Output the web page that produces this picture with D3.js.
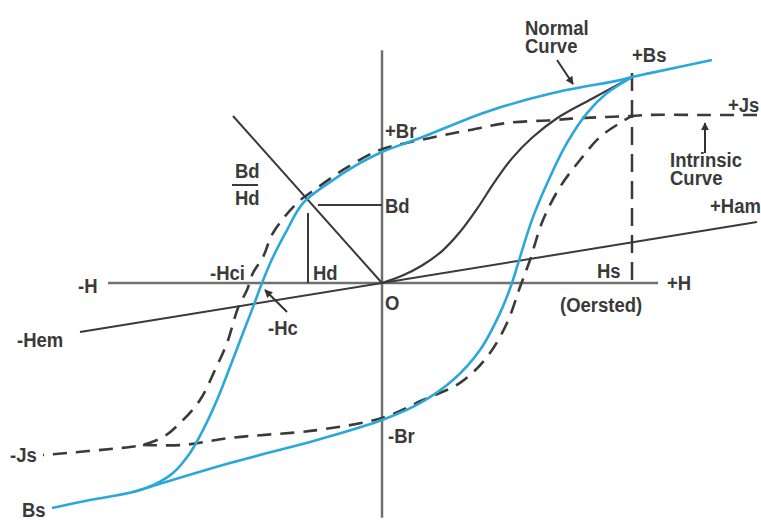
<!DOCTYPE html>
<html>
<head>
<meta charset="utf-8">
<script src="https://cdn.jsdelivr.net/npm/d3@7"></script>
<style>
body { margin: 0; background: #fff; }
text { font-family: "Liberation Sans", Arial, sans-serif; font-weight: bold; font-size: 18.5px; fill: #3a3a3a; }
</style>
</head>
<body>
<svg id="loop"></svg>
<script>
// points are [H, B]; Hs = 100, Bs = 100
const normalUpper = [[132,108.3],[107.2,101.9],[100,100],[95.2,98.5],[68.4,92.2],[42,83.2],[15.2,70.4],[0,63.6],
  [-11.6,56.3],[-20.8,49],[-31.6,38.8],[-38,25.7],[-43.6,12.6],[-48,0],[-51.6,-11.7],[-55.6,-24.3],
  [-60.8,-40.8],[-66,-56.8],[-71.6,-71.4],[-76.8,-82.5],[-83.6,-92.2],[-91.6,-98.1],[-99.6,-101.5],
  [-116.8,-105.3],[-132,-109.2]];
const normalLower = [[-99.6,-101.5],[-60.8,-87.4],[-26,-76.2],[0,-66.5],[15.2,-58.3],[28.4,-47.1],
  [39.2,-32.5],[47.2,-14.6],[52,0],[55.2,12.6],[60.4,32],[67.2,51.5],[74,68],[82,82.5],[90,92.2],[100,100]];
const intrinsicUpper = [[150,81.6],[127.2,81.6],[107.2,81.6],[100,81.1],[90,80.6],[79.2,80.1],[68.4,79.1],
  [50,77.7],[35.2,74.3],[19.2,70.4],[0,65],[-6,61.7],[-15.6,54.9],[-26,46.1],[-34,38.8],[-43.6,24.3],
  [-47.6,12.6],[-51.6,4.9],[-54,-3.4],[-57.6,-12.1],[-62,-29.1],[-66.8,-42.2],[-72.8,-56.8],[-80.8,-68],
  [-87.6,-74.8],[-95.6,-78.6],[-100.8,-79.6],[-135.6,-83.5]];
const intrinsicLower = [[-95.6,-78.6],[-79.6,-78.6],[-60.8,-75.2],[-26,-71.4],[0,-65.5],[16.4,-56.8],
  [31.2,-48.5],[42,-35.9],[50,-19.4],[55.2,-1.9],[59.2,11.2],[64.4,30.6],[71.2,46.6],[79.2,59.7],
  [87.2,70.9],[95.2,77.7],[100,81.1]];
const initialCurve = [[0,0],[8,3.5],[16,8.5],[24,15.5],[31,24.5],[38,36],[45,49],[52,60.5],[60,70.5],
  [70,80],[84,89.5],[100,100]];

const loadLine = [[-59.6,81.1],[0,0]];
const hamLine = [[-120.8,-23.8],[150,29.6]];
const bdLine = [[-25.6,37.9],[0,37.9]];
const hdLine = [[-29.6,34],[-29.6,0]];
const hsLine = [[100,102],[100,0]];
const hAxis = [[-109.6,0],[110.4,0]];
const bAxis = [[0,113],[0,-114]];
const fracBar = [[-60,47.6],[-49.6,47.6]];

const labels = [
  [["Normal","Curve"],57.2,120.4],[["+Bs"],100,107.3],[["+Js"],138.4,83],
  [["Intrinsic","Curve"],115.2,56.3],[["+Ham"],131.2,34],[["+Br"],1.2,70.4],[["Bd"],1.2,34],
  [["Bd"],-58.8,51],[["Hd"],-58.8,37.9],[["-Hci"],-68.8,1.5],[["Hd"],-27.6,1.5],[["-Hc"],-45.6,-25.2],
  [["O"],1.2,-13.1],[["Hs"],86,2.4],[["+H"],114,-3.4],[["(Oersted)"],71.2,-14.1],[["-H"],-121.6,-4.9],
  [["-Hem"],-146,-31.1],[["-Js"],-148.8,-86.9],[["Bs"],-144,-113.6],[["-Br"],2.4,-77.7]
];
const arrows = [
  [[70,108.3],[76.4,96.6]],
  [[129.2,63.1],[129.2,77.7]],
  [[-38,-14.1],[-46.8,-3.4]]
];

const width = 761, height = 523;
const svg = d3.select("#loop").attr("width", width).attr("height", height);

const x = d3.scaleLinear().domain([-152.8, 151.6]).range([0, width]);
const y = d3.scaleLinear().domain([137.4, -116.5]).range([0, height]);

const straight = d3.line().x(d => x(d[0])).y(d => y(d[1]));
const smooth = d3.line().x(d => x(d[0])).y(d => y(d[1])).curve(d3.curveCatmullRom.alpha(0.5));

svg.append("defs").append("marker")
  .attr("id", "head")
  .attr("viewBox", "0 0 10 10")
  .attr("refX", 9).attr("refY", 5)
  .attr("markerWidth", 4).attr("markerHeight", 4)
  .attr("orient", "auto")
  .append("path").attr("d", "M0,0 L10,5 L0,10 Z").attr("fill", "#333");

// axes
[hAxis, bAxis].forEach(a => {
  svg.append("path").attr("d", straight(a))
    .attr("stroke", "#707070").attr("stroke-width", 2.5).attr("fill", "none");
});

// thin guide lines
[loadLine, hamLine, bdLine, hdLine, fracBar].forEach(l => {
  svg.append("path").attr("d", straight(l))
    .attr("stroke", "#3a3a3a").attr("stroke-width", 2).attr("fill", "none");
});
svg.append("path").attr("d", straight(hsLine))
  .attr("stroke", "#3a3a3a").attr("stroke-width", 2.5).attr("fill", "none")
  .attr("stroke-dasharray", "18 9");

// initial magnetization
svg.append("path").attr("d", smooth(initialCurve))
  .attr("stroke", "#3a3a3a").attr("stroke-width", 2.2).attr("fill", "none");

// intrinsic curve (dashed)
[intrinsicUpper, intrinsicLower].forEach(c => {
  svg.append("path").attr("d", smooth(c))
    .attr("stroke", "#3a3a3a").attr("stroke-width", 2.6).attr("fill", "none")
    .attr("stroke-dasharray", "14 9");
});

// normal curve
[normalUpper, normalLower].forEach(c => {
  svg.append("path").attr("d", smooth(c))
    .attr("stroke", "#2aa8d8").attr("stroke-width", 2.6).attr("fill", "none");
});

arrows.forEach(a => {
  svg.append("path").attr("d", straight(a))
    .attr("stroke", "#333").attr("stroke-width", 2).attr("fill", "none")
    .attr("marker-end", "url(#head)");
});

// labels, stretched a little taller like the condensed type of the original
const lbl = svg.selectAll("text.lbl")
  .data(labels)
  .enter()
  .append("text")
  .attr("class", "lbl")
  .attr("transform", d => "translate(" + x(d[1]) + "," + y(d[2]) + ") scale(1,1.08)");

lbl.selectAll("tspan")
  .data(d => d[0].map((t, i) => ({t, i})))
  .enter()
  .append("tspan")
  .attr("x", 0)
  .attr("dy", d => d.i ? 16.7 : 0)
  .text(d => d.t);
</script>
</body>
</html>
